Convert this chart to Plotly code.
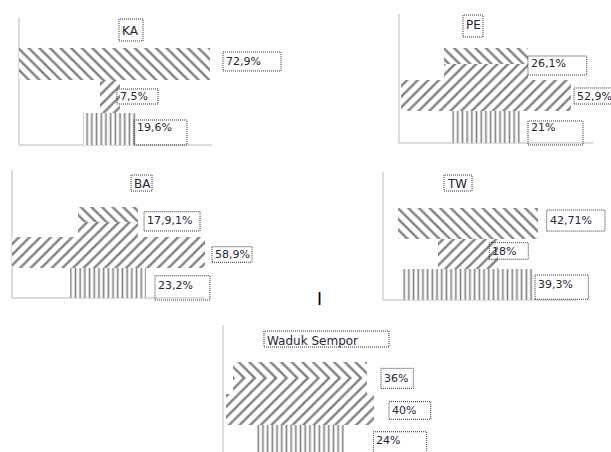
import plotly.graph_objects as go

W, H = 611, 452

# ---------------- data ----------------
categories = ["Kelas 1", "Kelas 2", "Kelas 3"]
panel_names = ["KA", "PE", "BA", "TW", "Waduk Sempor"]
ka_values = [72.9, 7.5, 19.6]
pe_values = [26.1, 52.9, 21.0]
ba_values = [17.9, 58.9, 23.2]
tw_values = [42.71, 18.0, 39.3]
sempor_values = [36.0, 40.0, 24.0]
ka_labels = ["72,9%", "7,5%", "19,6%"]
pe_labels = ["26,1%", "52,9%", "21%"]
ba_labels = ["17,9,1%", "58,9%", "23,2%"]
tw_labels = ["42,71%", "18%", "39,3%"]
sempor_labels = ["36%", "40%", "24%"]

values_all = [ka_values, pe_values, ba_values, tw_values, sempor_values]
labels_all = [ka_labels, pe_labels, ba_labels, tw_labels, sempor_labels]

# ---------------- layout (pixels) ----------------
spec = [
    dict(axis=(19, 17, 212, 145), dom=(19, 300, 17, 150), center=110, scale=2.75,
         rowtop=48, unit=32.33, chevron=False, bottom_line=True,
         title=(119, 19, 143, 41, 31),
         boxes=[(12.8, 70.8, -12.2, 6.8, -3), (-3.3, 37.7, -7.5, 7.5, 0), (-3, 50, -8.8, 16.2, -1)]),
    dict(axis=(399, 14, 593, 143), dom=(399, 611, 14, 150), center=486, scale=3.2,
         rowtop=48, unit=31.67, chevron=True, bottom_line=True,
         title=(463, 15, 483, 37, 25),
         boxes=[(0.2, 59, -7.8, 11.2, 0), (3.4, 45, -7.5, 8.5, 0.5), (8.4, 63.4, -6.2, 17.8, 0.8)]),
    dict(axis=(12, 170, 205, 298), dom=(12, 300, 170, 302), center=108, scale=3.3,
         rowtop=207, unit=30.33, chevron=True, bottom_line=True,
         title=(131, 175, 152, 191, 184),
         boxes=[(6.5, 62.5, -10.5, 8.8, -2), (6.8, 46.8, -5.8, 9.8, 2), (8.7, 63.7, -7.1, 17.2, 2.2)]),
    dict(axis=(383, 172, 577, 300), dom=(383, 611, 172, 304), center=468, scale=3.3,
         rowtop=208, unit=30.67, chevron=False, bottom_line=True,
         title=(444, 175, 472, 191, 184),
         boxes=[(8.2, 66.5, -13.3, 7.7, -3.3), (-8.4, 30.6, -11.3, 5.3, -3), (2.2, 55.5, -9.7, 14.6, 0.3)]),
    dict(axis=(223, 325, 416, 452), dom=(223, 460, 325, 452), center=300, scale=3.7,
         rowtop=362, unit=31.5, chevron=True, bottom_line=False,
         title=(264, 331, 389, 347, 341),
         boxes=[(14.4, 46.7, -9.4, 10.6, 0.6), (15, 56.7, -7.6, 10, 0.8), (29, 82.3, -9, 15, -0.75)]),
]

PAT_FG = "#828282"
TXT = "#26263a"
FONT = "DejaVu Sans"
DOT = "1px,1px"


def px_x(p):
    return p / W


def px_y(p):
    return 1 - p / H


fig = go.Figure()
shapes = []
annotations = []
layout_axes = {}

for i, (name, vals, labs, sp) in enumerate(zip(panel_names, values_all, labels_all, spec)):
    n = "" if i == 0 else str(i + 1)
    xa, ya = "x" + n, "y" + n
    bases = [-v / 2 for v in vals]

    fig.add_trace(go.Bar(
        orientation="h", y=categories, x=vals, base=bases, width=1.0,
        xaxis=xa, yaxis=ya, showlegend=False, hoverinfo="skip",
        marker=dict(color="white", line=dict(width=0),
                    pattern=dict(shape=["\\", "/", "|"], size=[7.5, 7.5, 4.7],
                                 solidity=[0.33, 0.33, 0.35], fgcolor=PAT_FG,
                                 bgcolor="white", fillmode="replace")),
    ))
    if sp["chevron"]:
        fig.add_trace(go.Bar(
            orientation="h", y=categories[:1], x=vals[:1], base=bases[:1],
            width=0.5, offset=0, xaxis=xa, yaxis=ya, showlegend=False, hoverinfo="skip",
            marker=dict(color="white", line=dict(width=0),
                        pattern=dict(shape="/", size=7.5, solidity=0.33, fgcolor=PAT_FG,
                                     bgcolor="white", fillmode="replace")),
        ))

    dx0, dx1, dt, db = sp["dom"]
    c, s = sp["center"], sp["scale"]
    rt, u = sp["rowtop"], sp["unit"]

    def yval(p):
        return -0.5 + (p - rt) / u

    layout_axes["xaxis" + n] = dict(domain=[px_x(dx0), px_x(dx1)],
                                    range=[(dx0 - c) / s, (dx1 - c) / s],
                                    visible=False, anchor=ya, fixedrange=True)
    layout_axes["yaxis" + n] = dict(domain=[px_y(db), px_y(dt)],
                                    range=[yval(db), yval(dt)],
                                    type="category", categoryarray=categories,
                                    visible=False, anchor=xa, fixedrange=True)

    # axis lines
    al, at, ar, ab = sp["axis"]
    shapes.append(dict(type="line", xref="paper", yref="paper",
                       x0=px_x(al), x1=px_x(al), y0=px_y(at), y1=px_y(ab),
                       line=dict(color="#d0d0d0", width=1.5), layer="below"))
    if sp["bottom_line"]:
        shapes.append(dict(type="line", xref="paper", yref="paper",
                           x0=px_x(al), x1=px_x(ar), y0=px_y(ab), y1=px_y(ab),
                           line=dict(color="#d0d0d0", width=1.5), layer="below"))

    # value labels with dotted boxes
    for j, (v, lab, bx) in enumerate(zip(vals, labs, sp["boxes"])):
        bx0, bx1, by0, by1, tdy = bx
        shapes.append(dict(type="rect", xref=xa, yref=ya,
                           xsizemode="pixel", xanchor=v / 2, x0=bx0, x1=bx1,
                           ysizemode="pixel", yanchor=j, y0=-by1, y1=-by0,
                           line=dict(color="#333333", width=1, dash=DOT),
                           fillcolor="rgba(255,255,255,0)"))
        annotations.append(dict(text=lab, xref=xa, yref=ya, x=v / 2, y=categories[j],
                                xanchor="left", yanchor="middle", xshift=bx0 + 1,
                                yshift=-tdy, showarrow=False,
                                font=dict(family=FONT, size=11, color=TXT)))

    # panel title
    tx0, ty0, tx1, ty1, tcy = sp["title"]
    shapes.append(dict(type="rect", xref="paper", yref="paper",
                       x0=px_x(tx0), x1=px_x(tx1), y0=px_y(ty1), y1=px_y(ty0),
                       line=dict(color="#333333", width=1, dash=DOT)))
    annotations.append(dict(text=name, xref="paper", yref="paper",
                            x=px_x(tx0 + 1), y=px_y(tcy), xanchor="left", yanchor="middle",
                            showarrow=False,
                            font=dict(family=FONT, size=12, color=TXT)))

# stray cursor mark
annotations.append(dict(text="I", xref="paper", yref="paper", x=px_x(319), y=px_y(299),
                        xanchor="center", yanchor="middle", showarrow=False,
                        font=dict(family="Liberation Sans", size=18, color="black")))

fig.update_layout(
    width=W, height=H, autosize=False,
    margin=dict(l=0, r=0, t=0, b=0, pad=0),
    paper_bgcolor="white", plot_bgcolor="rgba(0,0,0,0)",
    barmode="overlay", bargap=0,
    shapes=shapes, annotations=annotations,
    **layout_axes,
)

fig.write_html("out.html")
